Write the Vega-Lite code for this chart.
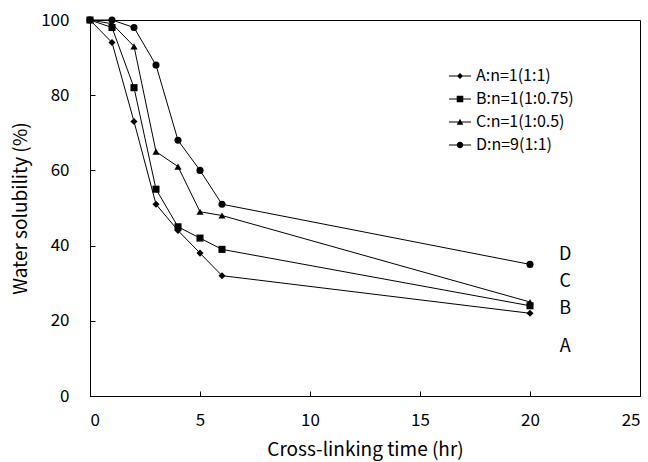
{
  "$schema": "https://vega.github.io/schema/vega-lite/v6.json",
  "width": 550,
  "height": 376,
  "autosize": "none",
  "padding": {"left": 90, "top": 20, "right": 8, "bottom": 66},
  "background": "white",
  "config": {
    "view": {"stroke": "black", "strokeWidth": 1},
    "font": "Noto Sans CJK JP",
    "axis": {
      "grid": false,
      "domainColor": "black",
      "tickColor": "black",
      "tickSize": -5,
      "labelColor": "black",
      "labelFontSize": 17,
      "labelFont": "Noto Sans CJK JP",
      "titleFont": "Noto Sans CJK JP",
      "titleFontSize": 19,
      "titleFontWeight": "normal",
      "titleColor": "black"
    }
  },
  "data": {
    "values": [
      {"series": "A:n=1(1:1)", "time": 0, "sol": 100},
      {"series": "A:n=1(1:1)", "time": 1, "sol": 94},
      {"series": "A:n=1(1:1)", "time": 2, "sol": 73},
      {"series": "A:n=1(1:1)", "time": 3, "sol": 51},
      {"series": "A:n=1(1:1)", "time": 4, "sol": 44},
      {"series": "A:n=1(1:1)", "time": 5, "sol": 38},
      {"series": "A:n=1(1:1)", "time": 6, "sol": 32},
      {"series": "A:n=1(1:1)", "time": 20, "sol": 22},
      {"series": "B:n=1(1:0.75)", "time": 0, "sol": 100},
      {"series": "B:n=1(1:0.75)", "time": 1, "sol": 98},
      {"series": "B:n=1(1:0.75)", "time": 2, "sol": 82},
      {"series": "B:n=1(1:0.75)", "time": 3, "sol": 55},
      {"series": "B:n=1(1:0.75)", "time": 4, "sol": 45},
      {"series": "B:n=1(1:0.75)", "time": 5, "sol": 42},
      {"series": "B:n=1(1:0.75)", "time": 6, "sol": 39},
      {"series": "B:n=1(1:0.75)", "time": 20, "sol": 24},
      {"series": "C:n=1(1:0.5)", "time": 0, "sol": 100},
      {"series": "C:n=1(1:0.5)", "time": 1, "sol": 99},
      {"series": "C:n=1(1:0.5)", "time": 2, "sol": 93},
      {"series": "C:n=1(1:0.5)", "time": 3, "sol": 65},
      {"series": "C:n=1(1:0.5)", "time": 4, "sol": 61},
      {"series": "C:n=1(1:0.5)", "time": 5, "sol": 49},
      {"series": "C:n=1(1:0.5)", "time": 6, "sol": 48},
      {"series": "C:n=1(1:0.5)", "time": 20, "sol": 25},
      {"series": "D:n=9(1:1)", "time": 0, "sol": 100},
      {"series": "D:n=9(1:1)", "time": 1, "sol": 100},
      {"series": "D:n=9(1:1)", "time": 2, "sol": 98},
      {"series": "D:n=9(1:1)", "time": 3, "sol": 88},
      {"series": "D:n=9(1:1)", "time": 4, "sol": 68},
      {"series": "D:n=9(1:1)", "time": 5, "sol": 60},
      {"series": "D:n=9(1:1)", "time": 6, "sol": 51},
      {"series": "D:n=9(1:1)", "time": 20, "sol": 35}
    ]
  },
  "resolve": {"scale": {"shape": "independent"}, "legend": {"shape": "independent"}},
  "layer": [
    {
      "mark": {"type": "line", "color": "black", "strokeWidth": 1},
      "encoding": {
        "x": {"field": "time", "type": "quantitative", "scale": {"domain": [0, 25], "nice": false},
              "axis": {"values": [0, 5, 10, 15, 20, 25], "title": "Cross-linking time (hr)", "labelPadding": 21, "titlePadding": 12}},
        "y": {"field": "sol", "type": "quantitative", "scale": {"domain": [0, 100], "nice": false},
              "axis": {"values": [0, 20, 40, 60, 80, 100], "title": "Water solubility (%)", "labelPadding": 26, "titlePadding": 10}},
        "detail": {"field": "series"}
      }
    },
    {
      "mark": {"type": "point", "filled": true, "color": "black", "size": 50, "opacity": 1},
      "encoding": {
        "x": {"field": "time", "type": "quantitative"},
        "y": {"field": "sol", "type": "quantitative"},
        "shape": {
          "field": "series", "type": "nominal",
          "scale": {"domain": ["A:n=1(1:1)", "B:n=1(1:0.75)", "C:n=1(1:0.5)", "D:n=9(1:1)"],
                    "range": ["diamond", "square", "triangle-up", "circle"]},
          "legend": null
        }
      }
    },
    {
      "transform": [{"filter": "false"}],
      "mark": {"type": "point", "filled": true, "color": "black", "opacity": 1},
      "encoding": {
        "shape": {
          "field": "series", "type": "nominal",
          "scale": {"domain": ["A:n=1(1:1)", "B:n=1(1:0.75)", "C:n=1(1:0.5)", "D:n=9(1:1)"],
                    "range": [
                      "M-1,-0.045L1,-0.045L1,0.045L-1,0.045ZM-0.28,0L0,-0.28L0.28,0L0,0.28Z",
                      "M-1,-0.045L1,-0.045L1,0.045L-1,0.045ZM-0.3,-0.3L0.3,-0.3L0.3,0.3L-0.3,0.3Z",
                      "M-1,-0.045L1,-0.045L1,0.045L-1,0.045ZM-0.3,0.25L0,-0.3L0.3,0.25Z",
                      "M-1,-0.045L1,-0.045L1,0.045L-1,0.045ZM-0.3,0A0.3,0.3 0 1,1 0.3,0A0.3,0.3 0 1,1 -0.3,0Z"
                    ]},
          "legend": {
            "orient": "none", "legendX": 358, "legendY": 44,
            "title": null,
            "labelFontSize": 16, "labelColor": "black", "labelFont": "Noto Sans CJK JP",
            "symbolSize": 484, "symbolFillColor": "black",
            "symbolOpacity": 1,
            "rowPadding": 3, "labelOffset": 4
          }
        }
      }
    },
    {
      "data": {"values": [
        {"lab": "D", "x": 21.6, "y": 37.5},
        {"lab": "C", "x": 21.6, "y": 30.3},
        {"lab": "B", "x": 21.6, "y": 23.1},
        {"lab": "A", "x": 21.6, "y": 13.0}
      ]},
      "mark": {"type": "text", "fontSize": 18, "color": "black", "font": "Noto Sans CJK JP", "align": "center", "baseline": "middle"},
      "encoding": {
        "x": {"field": "x", "type": "quantitative"},
        "y": {"field": "y", "type": "quantitative"},
        "text": {"field": "lab"}
      }
    }
  ]
}
